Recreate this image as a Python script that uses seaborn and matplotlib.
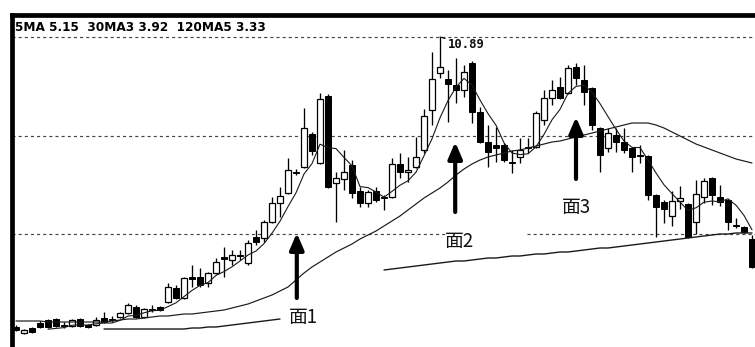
import numpy as np
import pandas as pd
import matplotlib
matplotlib.use("Agg")
import matplotlib.pyplot as plt
import seaborn as sns

nan = float("nan")

# Daily OHLC prices
opens = [2.19, 2.01, 2.16, 2.31, 2.40, 2.43, 2.25, 2.22, 2.43, 2.25,
         2.25, 2.46, 2.43, 2.49, 2.61, 2.79, 2.49, 2.73, 2.79, 2.94,
         3.36, 3.06, 3.69, 3.69, 3.51, 3.81, 4.29, 4.20, 4.35, 4.11,
         4.89, 4.86, 5.34, 5.91, 6.21, 6.84, 6.99, 7.98, 7.11, 9.12,
         6.51, 6.63, 7.05, 6.27, 5.91, 6.27, 6.09, 6.09, 7.08, 6.84,
         6.99, 7.50, 8.70, 9.81, 9.63, 9.45, 9.30, 10.11, 8.64, 7.74,
         7.65, 7.65, 7.14, 7.29, 7.59, 7.59, 8.40, 9.06, 9.39, 9.21,
         9.99, 9.60, 9.36, 8.16, 7.56, 7.95, 7.74, 7.56, 7.35, 7.32,
         6.15, 5.94, 5.52, 5.97, 5.88, 5.34, 6.09, 6.66, 6.09, 6.00,
         5.25, 5.19, 4.83]
highs = [2.25, 2.13, 2.19, 2.37, 2.43, 2.46, 2.34, 2.43, 2.46, 2.28,
         2.49, 2.64, 2.52, 2.64, 2.91, 2.85, 2.76, 2.85, 2.82, 3.51,
         3.45, 3.69, 4.05, 3.96, 3.84, 4.26, 4.59, 4.50, 4.50, 4.80,
         5.10, 5.40, 6.09, 6.39, 7.26, 6.93, 8.76, 8.04, 9.21, 9.18,
         6.84, 7.50, 7.20, 6.39, 6.30, 6.39, 6.15, 7.26, 7.41, 7.29,
         7.89, 8.73, 10.44, 10.89, 9.90, 10.26, 10.05, 10.17, 8.79, 8.25,
         8.19, 7.71, 7.50, 7.86, 7.86, 8.67, 9.30, 9.60, 9.69, 10.05,
         10.11, 10.05, 9.39, 8.19, 8.16, 8.16, 8.16, 7.59, 7.65, 7.35,
         6.18, 6.00, 6.27, 6.42, 5.91, 6.60, 6.66, 6.69, 6.45, 6.03,
         5.46, 5.22, 4.95]
lows = [2.07, 1.98, 2.01, 2.16, 2.16, 2.19, 2.16, 2.19, 2.19, 2.16,
        2.22, 2.31, 2.34, 2.46, 2.58, 2.46, 2.46, 2.64, 2.67, 2.91,
        3.03, 3.03, 3.39, 3.39, 3.39, 3.78, 3.69, 4.05, 4.20, 4.05,
        4.65, 4.74, 5.31, 5.49, 6.18, 6.75, 6.96, 7.35, 7.08, 6.36,
        5.34, 6.30, 6.06, 5.79, 5.79, 5.94, 5.70, 6.06, 6.66, 6.54,
        6.96, 7.41, 8.25, 9.66, 8.34, 8.91, 9.09, 8.31, 7.71, 6.99,
        7.14, 7.14, 6.81, 7.11, 7.41, 7.56, 8.25, 8.85, 9.03, 9.18,
        9.45, 8.85, 8.10, 6.84, 7.44, 7.44, 7.41, 6.84, 7.11, 6.00,
        4.89, 5.31, 5.22, 5.73, 4.86, 4.98, 5.91, 5.85, 5.82, 5.10,
        5.16, 5.01, 3.96]
closes = [2.10, 2.10, 2.04, 2.19, 2.19, 2.22, 2.22, 2.40, 2.22, 2.19,
          2.40, 2.34, 2.40, 2.61, 2.85, 2.49, 2.73, 2.70, 2.70, 3.39,
          3.06, 3.66, 3.63, 3.45, 3.81, 4.14, 4.23, 4.35, 4.32, 4.71,
          4.74, 5.34, 5.91, 6.12, 6.90, 6.81, 8.16, 7.47, 9.03, 6.39,
          6.66, 6.84, 6.21, 5.91, 6.24, 6.00, 6.06, 7.08, 6.84, 6.90,
          7.29, 8.52, 9.63, 9.99, 9.48, 9.30, 9.84, 8.64, 7.74, 7.44,
          7.56, 7.20, 7.11, 7.50, 7.56, 8.61, 9.06, 9.30, 9.06, 9.96,
          9.66, 9.24, 8.25, 7.35, 8.01, 7.74, 7.50, 7.29, 7.32, 6.15,
          5.79, 5.73, 5.97, 6.06, 4.89, 6.18, 6.57, 6.15, 5.94, 5.34,
          5.22, 5.04, 3.99]

# Medium-term moving average
ma30 = [2.37, 2.37, 2.37, 2.37, 2.34, 2.34, 2.34, 2.34, 2.34, 2.34,
        2.34, 2.34, 2.37, 2.40, 2.43, 2.43, 2.46, 2.49, 2.52, 2.52,
        2.55, 2.58, 2.58, 2.61, 2.64, 2.67, 2.70, 2.76, 2.82, 2.88,
        2.97, 3.06, 3.15, 3.27, 3.39, 3.60, 3.81, 3.99, 4.14, 4.29,
        4.44, 4.56, 4.68, 4.83, 4.95, 5.07, 5.22, 5.37, 5.52, 5.70,
        5.88, 6.06, 6.21, 6.36, 6.54, 6.75, 6.93, 7.08, 7.20, 7.29,
        7.35, 7.41, 7.47, 7.50, 7.56, 7.62, 7.68, 7.74, 7.77, 7.83,
        7.89, 7.95, 8.01, 8.07, 8.13, 8.19, 8.25, 8.31, 8.31, 8.31,
        8.25, 8.16, 8.04, 7.92, 7.80, 7.68, 7.59, 7.50, 7.41, 7.32,
        7.23, 7.17, 7.11]

# Long-term moving average (hidden where the labels sit)
ma_long = ([nan] * 11 +
           [2.13] * 11 +
           [2.16, 2.16, 2.19, 2.19, 2.22, 2.25, 2.28, 2.31, 2.34, 2.37, 2.40, 2.43] +
           [nan] * 12 +
           [3.90, 3.93, 3.96, 3.99, 4.02, 4.05, 4.08, 4.11, 4.14, 4.17,
            4.17, 4.20, 4.23, 4.26, 4.26, 4.29, 4.32, 4.32, 4.35, 4.38,
            4.38, 4.41, 4.44, 4.44, 4.47, 4.50, 4.53, 4.56, 4.56, 4.59,
            4.62, 4.65, 4.68, 4.71, 4.74, 4.77, 4.80, 4.83, 4.86, 4.89,
            4.92, 4.95, 4.98, 4.98, 5.01, 5.01, 5.01])

ref_levels = [10.89, 7.92, 4.98]
header = "5MA 5.15  30MA3 3.92  120MA5 3.33"
peak_text = "10.89"
face_labels = ["面1", "面2", "面3"]

sns.set_theme(style="white")

df = pd.DataFrame({"open": opens, "high": highs, "low": lows, "close": closes})
df["idx"] = np.arange(len(df))
df["ma5"] = df["close"].rolling(5).mean()

W, H = 755, 347
fig = plt.figure(figsize=(W / 100, H / 100), dpi=100)
ax = fig.add_axes([11.5 / W, 0.0, 743.5 / W, 332.5 / H])
ax.set_xlim(-0.5625, 92.375)
ax.set_ylim(1.59, 11.565)
ax.set_xticks([])
ax.set_yticks([])
for side in ("right", "bottom"):
    ax.spines[side].set_visible(False)
for side in ("left", "top"):
    ax.spines[side].set_visible(True)
    ax.spines[side].set_linewidth(3.4)
    ax.spines[side].set_color("black")

# Reference levels
dash = dict(color="#444444", lw=0.85, linestyle=(0, (2.6, 2.6)), zorder=1)
ax.axhline(ref_levels[0], **dash)
ax.axhline(ref_levels[1], **dash)
ax.hlines([ref_levels[2], ref_levels[2]], [-0.5625, 63.9], [53.6, 92.375], **dash)

# Candlesticks
up = df["close"] >= df["open"]
body_lo = np.minimum(df["open"], df["close"])
body_h = np.maximum((df["close"] - df["open"]).abs(), 0.03)
ax.vlines(df["idx"], df["low"], df["high"], color="black", lw=0.95, zorder=2)
ax.bar(df["idx"][up], body_h[up], bottom=body_lo[up], width=0.64,
       facecolor="white", edgecolor="black", linewidth=0.9, zorder=3)
ax.bar(df["idx"][~up], body_h[~up], bottom=body_lo[~up], width=0.68,
       facecolor="black", edgecolor="black", linewidth=0.7, zorder=3)


def draw_ma(values, lw):
    s = pd.Series(values, dtype=float)
    d = pd.DataFrame({"idx": np.arange(len(s)), "val": s, "seg": s.isna().cumsum()}).dropna()
    sns.lineplot(data=d, x="idx", y="val", units="seg", estimator=None, ax=ax,
                 color="#1a1a1a", lw=lw, legend=False, zorder=4)


draw_ma(df["ma5"], 0.8)
draw_ma(ma30, 0.85)
draw_ma(ma_long, 1.0)
ax.set_xlabel("")
ax.set_ylabel("")

# Peak price label
peak_i = int(np.argmax(df["high"]))
ax.annotate(peak_text, xy=(df["idx"][peak_i], df["high"][peak_i]), xytext=(6, -5.5),
            textcoords="offset points", ha="left", va="center",
            fontsize=8.8, fontweight="bold", family="DejaVu Sans Mono", color="#111111",
            arrowprops=dict(arrowstyle="-", color="black", lw=0.8, shrinkA=0, shrinkB=0))

# Support arrows and labels
arrow_style = dict(arrowstyle="-|>,head_length=0.7,head_width=0.3", color="black",
                   lw=3.0, mutation_scale=14, shrinkA=0, shrinkB=0)
arrows = [(35.1, 5.01, 3.06), (54.9, 7.74, 5.64), (70.0, 8.49, 6.63)]
label_pos = [(35.9, 2.46), (55.5, 4.74), (70.0, 5.76)]
for (x, tip, tail), (lx, ly), text in zip(arrows, label_pos, face_labels):
    ax.annotate("", xy=(x, tip), xytext=(x, tail), arrowprops=arrow_style, zorder=6)
    ax.text(lx, ly, text, ha="center", va="center", fontsize=13.5,
            family=["Noto Sans CJK SC", "DejaVu Sans"], color="#111111", zorder=6)

fig.text(15 / W, 1 - 27.5 / H, header, ha="left", va="center", fontsize=8.7,
         fontweight="bold", family="DejaVu Sans", color="black")

fig.savefig("out.png", dpi=100, facecolor="white")
